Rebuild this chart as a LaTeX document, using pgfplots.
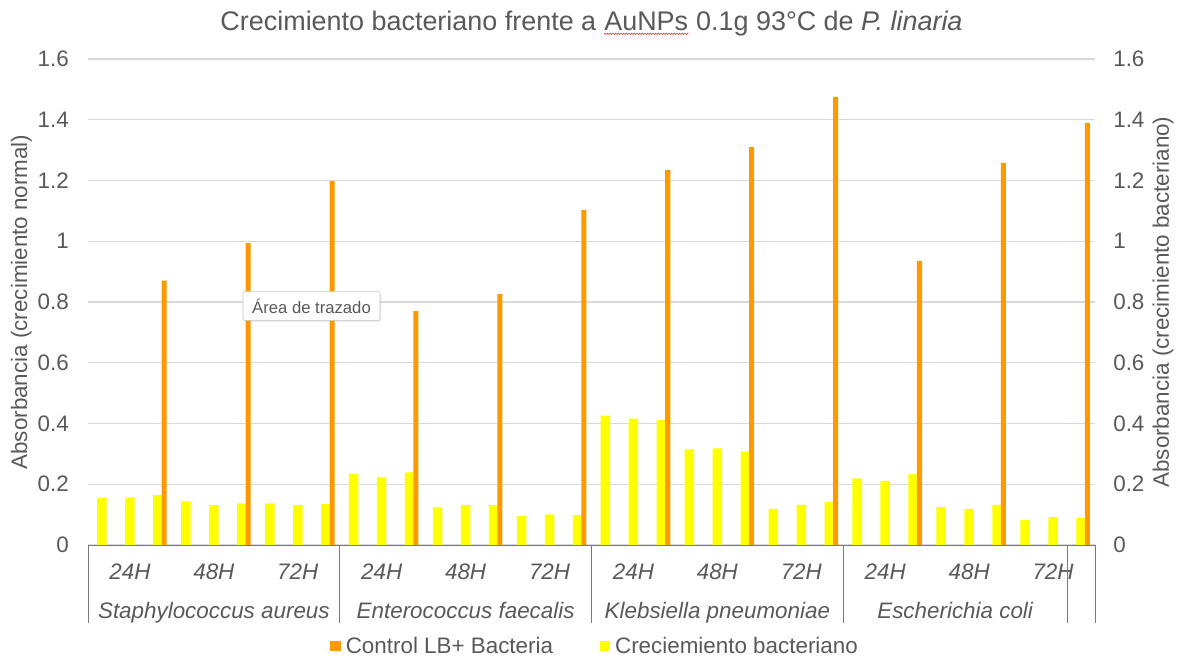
\documentclass[border=0pt]{standalone}
\usepackage{pgfplots}
\pgfplotsset{compat=1.18}
\usepackage{fontspec}
\setmainfont{Liberation Sans}
\usetikzlibrary{shadows,decorations.pathmorphing}

\definecolor{barorange}{RGB}{255,153,0}
\definecolor{baryellow}{RGB}{255,255,0}
\definecolor{txtgray}{RGB}{89,89,89}
\definecolor{gridgray}{RGB}{217,217,217}

\newcommand{\lblfont}{\fontsize{16.8}{19}\selectfont}
% spell-check squiggle under a word, as in the screenshot
\newcommand{\squiggle}[1]{\tikz[baseline=(w.base)]{\node[inner sep=0pt](w){#1};
  \draw[red!85, line width=0.45pt, decorate, decoration={snake, amplitude=0.45pt, segment length=2pt}]
    ([yshift=-2.6pt]w.base west) -- ([yshift=-2.6pt]w.base east);}}

\begin{document}
\begin{tikzpicture}
\path[use as bounding box] (-66pt,-84.75pt) rectangle (819pt,408.75pt);

% right axis: ticks and label only
\begin{axis}[
  at={(0,0)}, anchor=south west,
  scale only axis, width=755.25pt, height=364.5pt,
  xmin=0.5, xmax=36.5, ymin=0, ymax=1.6,
  axis x line=none, axis y line*=right,
  y axis line style={draw=none},
  major tick length=0pt,
  ytick={0,0.2,0.4,0.6,0.8,1,1.2,1.4,1.6},
  /pgf/number format/assume math mode=true,
  yticklabel style={font=\lblfont, text=txtgray, anchor=west, inner sep=0pt, xshift=13.5pt},
  every axis y label/.style={at={([xshift=51pt]axis description cs:1,0.5)}, rotate=90, anchor=center},
  ylabel style={font=\lblfont, text=txtgray},
  ylabel={Absorbancia (crecimiento bacteriano)},
]
\end{axis}

\begin{axis}[
  at={(0,0)}, anchor=south west,
  scale only axis, width=755.25pt, height=364.5pt,
  xmin=0.5, xmax=36.5, ymin=0, ymax=1.6,
  clip=false,
  axis line style={draw=none},
  major tick length=0pt,
  ytick={0,0.2,0.4,0.6,0.8,1,1.2,1.4,1.6},
  ymajorgrids, grid style={gridgray, line width=0.8pt},
  xtick={2,5,8,11,14,17,20,23,26,29,32,35},
  xticklabels={24H,48H,72H,24H,48H,72H,24H,48H,72H,24H,48H,72H},
  /pgf/number format/assume math mode=true,
  yticklabel style={font=\lblfont, text=txtgray, anchor=east, inner sep=0pt, xshift=-14.25pt},
  xticklabel style={font=\lblfont\itshape, text=txtgray, anchor=base, inner sep=0pt, yshift=-25.5pt},
  every axis y label/.style={at={([xshift=-50pt]axis description cs:0,0.5)}, rotate=90, anchor=center},
  ylabel style={font=\lblfont, text=txtgray},
  ylabel={Absorbancia (crecimiento normal)},
  title={Crecimiento bacteriano frente a \squiggle{AuNPs} 0.1g 93°C de \textit{P. linaria}},
  title style={font=\fontsize{20.2}{24}\selectfont, text=txtgray, at={([yshift=15.5pt]axis description cs:0.5,1)}, anchor=base, inner sep=0pt},
  legend columns=2, reverse legend,
  legend image code/.code={\fill[#1] (0pt,-4pt) rectangle (8pt,4pt);},
  legend style={at={([xshift=3pt,yshift=-75.75pt]axis description cs:0.5,0)}, anchor=center,
    draw=none, fill=none, font=\lblfont, text=txtgray,
    /tikz/every odd column/.append style={column sep=1.5pt},
    /tikz/every even column/.append style={column sep=33pt}},
]

% Creciemiento bacteriano (yellow), all 36 categories
\addplot[ybar, bar width=0.34, bar shift=0, fill=baryellow, draw=none]
coordinates {
(1,0.154) (2,0.157) (3,0.164)
(4,0.144) (5,0.131) (6,0.137)
(7,0.137) (8,0.131) (9,0.135)
(10,0.235) (11,0.223) (12,0.239)
(13,0.124) (14,0.131) (15,0.131)
(16,0.095) (17,0.101) (18,0.098)
(19,0.426) (20,0.416) (21,0.412)
(22,0.315) (23,0.318) (24,0.308)
(25,0.119) (26,0.132) (27,0.142)
(28,0.219) (29,0.211) (30,0.233)
(31,0.125) (32,0.119) (33,0.132)
(34,0.082) (35,0.092) (36,0.089)
};
\addlegendentry{Creciemiento bacteriano}

% Control LB+ Bacteria (orange), every third category
\addplot[ybar, bar width=0.18, bar shift=0.225, fill=barorange, draw=none]
coordinates {
(3,0.870) (6,0.994) (9,1.198)
(12,0.770) (15,0.826) (18,1.103)
(21,1.234) (24,1.310) (27,1.475)
(30,0.935) (33,1.258) (36,1.389)
};
\addlegendentry{Control LB+ Bacteria}

% category box lines
\draw[txtgray!80, line width=0.6pt] (axis cs:0.5,0) -- (axis cs:36.5,0);
\pgfplotsinvokeforeach{0.5,9.5,18.5,27.5,35.5,36.5}{
  \draw[txtgray!80, line width=0.6pt] (axis cs:#1,0) -- ++(0pt,-58.5pt);
}

\node[anchor=base, font=\lblfont\itshape, text=txtgray] at ([yshift=-55pt]axis cs:5,0) {Staphylococcus aureus};
\node[anchor=base, font=\lblfont\itshape, text=txtgray] at ([yshift=-55pt]axis cs:14,0) {Enterococcus faecalis};
\node[anchor=base, font=\lblfont\itshape, text=txtgray] at ([yshift=-55pt]axis cs:23,0) {Klebsiella pneumoniae};
\node[anchor=base, font=\lblfont\itshape, text=txtgray] at ([yshift=-55pt]axis cs:31.5,0) {Escherichia coli};

% tooltip left over in the screenshot
\node[draw=gray!45, fill=white, rounded corners=1.5pt, drop shadow={opacity=0.15, shadow xshift=1pt, shadow yshift=-1pt},
  font=\fontsize{12.5}{14}\selectfont, text=txtgray, minimum width=102.75pt, minimum height=21.75pt, inner sep=0pt]
  at (axis cs:8.49,0.787) {Área de trazado};
\end{axis}
\end{tikzpicture}
\end{document}
